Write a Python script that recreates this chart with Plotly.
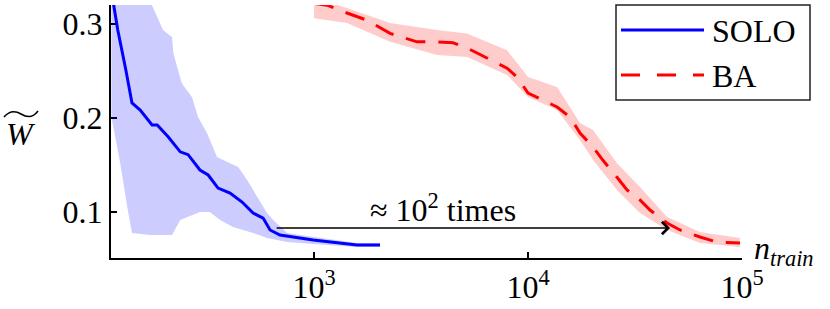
import math
import plotly.graph_objects as go

# ---------------- data ----------------
solo_n = [113, 121, 132, 141, 154, 175, 185, 208, 237, 258, 293, 320, 356, 405, 461,
          519, 578, 623, 693, 798, 990, 1588, 2033]
solo_w = [0.335, 0.2936, 0.251, 0.216, 0.2085, 0.1926, 0.1926, 0.180, 0.164, 0.161,
          0.1447, 0.1394, 0.1255, 0.1202, 0.1106, 0.0989, 0.0936, 0.0809, 0.0755,
          0.0734, 0.0702, 0.0649, 0.0649]

solo_up_n = [113, 171, 197, 217, 220, 241, 269, 287, 316, 352, 405, 442, 487, 541,
             603, 644, 748, 860, 990, 1588, 2033]
solo_up_w = [0.34, 0.325, 0.2936, 0.286, 0.269, 0.237, 0.222, 0.201, 0.184, 0.1585,
             0.152, 0.148, 0.134, 0.116, 0.0989, 0.0915, 0.0777, 0.0755, 0.0734,
             0.067, 0.067]

solo_lo_n = [113, 124, 134, 141, 171, 217, 237, 293, 326, 364, 418, 519, 603, 748,
             990, 1588, 2033]
solo_lo_w = [0.201, 0.153, 0.1053, 0.0777, 0.0755, 0.0755, 0.0915, 0.100, 0.100,
             0.0915, 0.084, 0.0777, 0.0723, 0.068, 0.066, 0.0628, 0.0628]

ba_n = [1000, 1150, 1426, 1769, 2266, 3030, 3756, 4464, 5190, 6430, 7980, 8890,
        10000, 11750, 13670, 15710, 17500, 20140, 22400, 26050, 29020, 33360,
        37170, 44650, 51330, 63640, 76390, 97900]
ba_w = [0.322, 0.320, 0.3117, 0.304, 0.290, 0.281, 0.281, 0.280, 0.2745, 0.264,
        0.253, 0.2436, 0.2266, 0.219, 0.2117, 0.201, 0.184, 0.169, 0.155, 0.137,
        0.1234, 0.1128, 0.1021, 0.0883, 0.0809, 0.0734, 0.0681, 0.067]

ba_band_n = [1000, 1426, 2266, 3756, 5190, 7980, 10000, 13670, 17500, 20140,
             26050, 33360, 44650, 63640, 97900]
ba_up_w = [0.328, 0.317, 0.301, 0.2936, 0.290, 0.272, 0.2436, 0.233, 0.1947,
           0.1872, 0.152, 0.1266, 0.0947, 0.0787, 0.0723]
ba_lo_w = [0.306, 0.301, 0.281, 0.267, 0.265, 0.2457, 0.2223, 0.2085, 0.1766,
           0.1553, 0.1234, 0.099, 0.081, 0.067, 0.0628]

x_tick_vals = [1e3, 1e4, 1e5]
x_tick_text = ["10<sup>3</sup>", "10<sup>4</sup>", "10<sup>5</sup>"]
y_tick_vals = [0.1, 0.2, 0.3]
y_tick_text = ["0.1", "0.2", "0.3"]

arrow_from_n, arrow_to_n, arrow_w = 658, 46100, 0.0830
text_n = 4010

# ---------------- layout constants ----------------
W, H = 830, 309
ML, MR, MT, MB = 111, 88, 5, 51
PW, PH = W - ML - MR, H - MT - MB
FONT = "Liberation Serif"
FS = 32
BLUE = "#0000ff"
RED = "#ff0000"


def px(x):
    return (x - ML) / PW


def py(y):
    return (H - MB - y) / PH


def tf():
    return dict(family=FONT, size=FS, color="black")


fig = go.Figure()

# SOLO band
fig.add_trace(go.Scatter(x=solo_lo_n, y=solo_lo_w, mode="lines", line=dict(width=0),
                         hoverinfo="skip", showlegend=False))
fig.add_trace(go.Scatter(x=solo_up_n, y=solo_up_w, mode="lines", line=dict(width=0),
                         fill="tonexty", fillcolor="rgba(0,0,255,0.2)",
                         hoverinfo="skip", showlegend=False))
# BA band
fig.add_trace(go.Scatter(x=ba_band_n, y=ba_lo_w, mode="lines", line=dict(width=0),
                         hoverinfo="skip", showlegend=False))
fig.add_trace(go.Scatter(x=ba_band_n, y=ba_up_w, mode="lines", line=dict(width=0),
                         fill="tonexty", fillcolor="rgba(255,0,0,0.2)",
                         hoverinfo="skip", showlegend=False))
# lines
fig.add_trace(go.Scatter(x=solo_n, y=solo_w, mode="lines", name="SOLO",
                         line=dict(color=BLUE, width=3), showlegend=False))
fig.add_trace(go.Scatter(x=ba_n, y=ba_w, mode="lines", name="BA",
                         line=dict(color=RED, width=3, dash="20px,13px"),
                         showlegend=False))

fig.update_xaxes(type="log", range=[math.log10(112.5), 5], showline=True,
                 linecolor="black", linewidth=2, ticks="inside", ticklen=6,
                 tickwidth=2, tickcolor="black", tickvals=x_tick_vals,
                 ticktext=x_tick_text, showgrid=False, zeroline=False,
                 tickfont=tf(), layer="below traces")
fig.update_yaxes(range=[0.0511, 0.3202], showline=True, linecolor="black",
                 linewidth=2, ticks="inside", ticklen=6, tickwidth=2,
                 tickcolor="black", tickvals=y_tick_vals, ticktext=y_tick_text,
                 showgrid=False, zeroline=False, tickfont=tf(),
                 layer="below traces")

shapes = []
annotations = []

# legend box
shapes.append(dict(type="rect", xref="paper", yref="paper", x0=px(616), x1=px(810),
                   y0=py(100), y1=py(5), line=dict(color="#222222", width=1.5),
                   fillcolor="white", layer="above"))
shapes.append(dict(type="line", xref="paper", yref="paper", x0=px(621), x1=px(704),
                   y0=py(30), y1=py(30), line=dict(color=BLUE, width=3)))
shapes.append(dict(type="line", xref="paper", yref="paper", x0=px(621), x1=px(704),
                   y0=py(75), y1=py(75), line=dict(color=RED, width=3, dash="19px,17px")))
annotations.append(dict(xref="paper", yref="paper", x=px(710), y=py(31), text="SOLO",
                        showarrow=False, xanchor="left", yanchor="middle", font=tf()))
annotations.append(dict(xref="paper", yref="paper", x=px(710), y=py(76), text="BA",
                        showarrow=False, xanchor="left", yanchor="middle", font=tf()))

# arrow
annotations.append(dict(x=math.log10(arrow_to_n), y=arrow_w, ax=math.log10(arrow_from_n),
                        ay=arrow_w, xref="x", yref="y", axref="x", ayref="y",
                        showarrow=True, arrowhead=4, arrowsize=1.6, arrowwidth=1.5,
                        arrowcolor="black", text=""))
annotations.append(dict(x=math.log10(text_n), y=arrow_w, xref="x", yref="y",
                        text="≈ 10<sup>2</sup> times", showarrow=False,
                        yanchor="bottom", yshift=-2, font=tf()))

# x-axis label
annotations.append(dict(xref="paper", yref="paper", x=px(752), y=py(250),
                        text="<i>n</i><sub><i>train</i></sub>", showarrow=False,
                        xanchor="left", yanchor="middle", font=tf()))

# y-axis label W with wide tilde
annotations.append(dict(xref="paper", yref="paper", x=px(21), y=py(134),
                        text="<i>W</i>", showarrow=False, xanchor="center",
                        yanchor="middle", font=tf()))
tp = [(4, 117), (10, 110), (16, 111), (21, 114), (32, 119), (38, 111)]
path = "M {:.4f},{:.4f} C {:.4f},{:.4f} {:.4f},{:.4f} {:.4f},{:.4f} S {:.4f},{:.4f} {:.4f},{:.4f}".format(
    *[v for (a, b) in tp for v in (px(a), py(b))])
shapes.append(dict(type="path", xref="paper", yref="paper", path=path,
                   line=dict(color="black", width=1.6)))

fig.update_layout(width=W, height=H, margin=dict(l=ML, r=MR, t=MT, b=MB),
                  plot_bgcolor="white", paper_bgcolor="white", showlegend=False,
                  shapes=shapes, annotations=annotations)

fig.write_html("out.html", post_script="document.body.style.margin='0';",
               config={"displayModeBar": False})
